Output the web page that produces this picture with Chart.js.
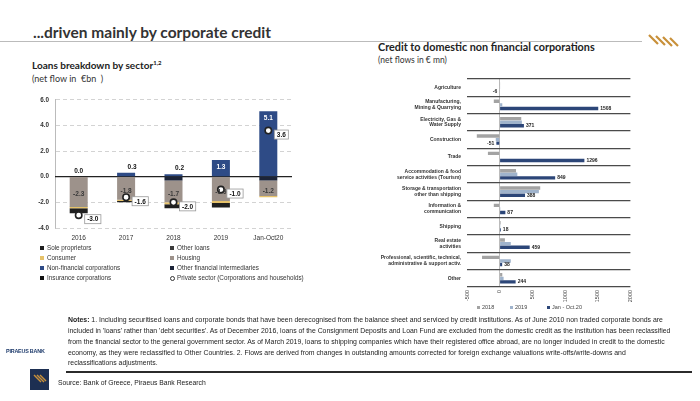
<!DOCTYPE html>
<html lang="en">
<head>
<meta charset="UTF-8" />
<title>...driven mainly by corporate credit</title>
<script src="https://cdn.jsdelivr.net/npm/chart.js"></script>
<style>
  body { margin:0; width:700px; height:401px; background:#fff; position:relative; overflow:hidden;
         font-family: Lato, "Liberation Sans", Arial, sans-serif; color:#222; }
  .abs { position:absolute; white-space:nowrap; }
  #title { left:33px; top:23px; font-size:15.5px; font-weight:bold; color:#333; }
  #titleLine { left:0; top:41px; width:642px; height:1px; background:#bbb; }
  #leftTitle { left:32px; top:59px; font-size:10px; font-weight:bold; color:#222; }
  #leftTitle sup { font-size:6px; }
  #leftSub { left:32px; top:73px; font-size:9px; color:#333; }
  #rightTitle { left:378px; top:40px; font-size:10.8px; font-weight:bold; color:#222; }
  #rightSub { left:378px; top:55px; font-size:8.5px; color:#333; }
  #leftChart { left:18px; top:90px; }
  #rightChart { left:370px; top:70px; }
  .lg { font-family:"Liberation Sans", Arial, sans-serif; font-size:6.3px; color:#333; }
  .sq { display:inline-block; width:4px; height:4px; margin-right:3px; vertical-align:middle; }
  .ring { display:inline-block; width:3px; height:3px; border:1.2px solid #333; border-radius:50%; margin-right:2px; vertical-align:middle; }
  .rl { font-family:"Liberation Sans", Arial, sans-serif; font-size:5.5px; color:#444; top:304px; }
  .note { left:68px; font-family:"Liberation Sans", Arial, sans-serif; font-size:6.9px; color:#222; }
  #piraeus { left:6px; top:348px; font-family:"Liberation Sans", Arial, sans-serif; font-size:5.4px; font-weight:bold; color:#1d3a6b; letter-spacing:-0.2px; }
  #bottomLine { left:66px; top:371px; width:626px; height:2px; background:#2b2b2b; }
  #logo { left:30px; top:369px; }
  #source { left:58px; top:379px; font-family:"Liberation Sans", Arial, sans-serif; font-size:6.8px; color:#222; }
  #gold { left:646px; top:33px; }
</style>
</head>
<body>
  <div id="title" class="abs">...driven mainly by corporate credit</div>
  <div id="titleLine" class="abs"></div>
  <svg id="gold" class="abs" width="34" height="16">
    <g stroke="#c8903a" stroke-width="2.2">
      <line x1="3" y1="2" x2="12" y2="11"/><line x1="10" y1="3" x2="19" y2="12"/><line x1="17" y1="4" x2="26" y2="13"/><line x1="24" y1="5" x2="32" y2="13"/>
    </g>
  </svg>

  <div id="leftTitle" class="abs">Loans breakdown by sector<sup>1,2</sup></div>
  <div id="leftSub" class="abs">(net flow in &nbsp;€bn &nbsp;)</div>
  <div id="rightTitle" class="abs">Credit to domestic non financial corporations</div>
  <div id="rightSub" class="abs">(net flows in € mn)</div>

  <canvas id="leftChart" class="abs" width="282" height="162"></canvas>
  <canvas id="rightChart" class="abs" width="270" height="235"></canvas>

  <!-- legend of the left chart, two columns -->
  <div class="abs lg" style="left:40px;top:244px;"><span class="sq" style="background:#1f1f1f"></span>Sole proprietors</div>
  <div class="abs lg" style="left:40px;top:254px;"><span class="sq" style="background:#e6c26a"></span>Consumer</div>
  <div class="abs lg" style="left:40px;top:264px;"><span class="sq" style="background:#2e4b86"></span>Non-financial corporations</div>
  <div class="abs lg" style="left:40px;top:274px;"><span class="sq" style="background:#111"></span>Insurance corporations</div>
  <div class="abs lg" style="left:170px;top:244px;"><span class="sq" style="background:#3c3c3c"></span>Other loans</div>
  <div class="abs lg" style="left:170px;top:254px;"><span class="sq" style="background:#9d928b"></span>Housing</div>
  <div class="abs lg" style="left:170px;top:264px;"><span class="sq" style="background:#1c2438"></span>Other financial intermediaries</div>
  <div class="abs lg" style="left:170px;top:274px;"><span class="ring"></span>Private sector (Corporations and households)</div>

  <!-- legend of the right chart -->
  <div class="abs rl" style="left:477px;"><span class="sq" style="background:#a3a3a3;width:3px;height:3px;margin-right:2px"></span>2018</div>
  <div class="abs rl" style="left:510px;"><span class="sq" style="background:#9fb3cc;width:3px;height:3px;margin-right:2px"></span>2019</div>
  <div class="abs rl" style="left:547px;"><span class="sq" style="background:#2c4678;width:3px;height:3px;margin-right:2px"></span>Jan - Oct.20</div>

  <div class="abs note" style="top:316px;"><b>Notes:</b> 1. Including securitised loans and corporate bonds that have been derecognised from the balance sheet and serviced by credit institutions. As of June 2010 non traded corporate bonds are</div>
  <div class="abs note" style="top:327px;">included in 'loans' rather than 'debt securities'. As of December 2016, loans of the Consignment Deposits and Loan Fund are excluded from the domestic credit as the institution has been reclassified</div>
  <div class="abs note" style="top:338px;">from the financial sector to the general government sector. As of March 2019, loans to shipping companies which have their registered office abroad, are no longer included in credit to the domestic</div>
  <div class="abs note" style="top:349px;">economy, as they were reclassified to Other Countries. 2. Flows are derived from changes in outstanding amounts corrected for foreign exchange valuations write-offs/write-downs and</div>
  <div class="abs note" style="top:359px;">reclassifications adjustments.</div>
  <div id="piraeus" class="abs">PIRAEUS BANK</div>
  <div id="bottomLine" class="abs"></div>
  <svg id="logo" class="abs" width="19" height="21">
    <rect width="19" height="21" fill="#1d2f52"/>
    <g stroke="#c8903a" stroke-width="1.4">
      <line x1="4" y1="6" x2="11" y2="13"/><line x1="7" y1="6" x2="14" y2="13"/><line x1="10" y1="6" x2="16" y2="12"/>
    </g>
  </svg>
  <div id="source" class="abs">Source: Bank of Greece, Piraeus Bank Research</div>

<script>
  // left chart: loans breakdown by sector (€ bn)
  const years = ['2016', '2017', '2018', '2019', 'Jan-Oct20'];
  const nfc = [0.0, 0.3, 0.2, 1.3, 5.1];
  const otherFinInt = [0, 0, -0.3, 0, -0.3];
  const housing = [-2.3, -1.8, -1.7, -1.9, -1.2];
  const otherLoans = [-0.05, 0, 0, 0, 0];
  const consumer = [-0.1, -0.1, -0.15, -0.15, -0.1];
  const insurance = [0, 0, 0, 0, 0];
  const soleProp = [-0.4, -0.1, -0.3, -0.35, 0];
  const privateSector = [-3.0, -1.6, -2.0, -1.0, 3.6];
  const leftTicks = [-4, -2, 0, 2, 4, 6];

  // right chart: credit to domestic NFCs (€ mn)
  const sectors = [
    'Agriculture',
    ['Manufacturing,', 'Mining & Quarrying'],
    ['Electricity, Gas &', 'Water Supply'],
    'Construction',
    'Trade',
    ['Accommodation & food', 'service activities (Tourism)'],
    ['Storage & transportation', 'other than shipping'],
    ['Information &', 'communication'],
    'Shipping',
    ['Real estate', 'activities'],
    ['Professional, scientific, technical,', 'administrative & support activ.'],
    'Other'
  ];
  const flows2018 = [3, -90, 330, -350, -180, 250, 620, -90, 15, 80, -270, 40];
  const flows2019 = [5, 40, 340, -60, 0, 270, 600, 10, 10, 170, 170, 60];
  const flowsJanOct20 = [-6, 1508, 371, -51, 1296, 849, 388, 87, 18, 459, 38, 244];

  // solid zero line under the bars (the other gridlines are dashed)
  const zeroLine = {
    id: 'zeroLine',
    beforeDatasetsDraw(chart) {
      const { ctx, chartArea, scales } = chart;
      const y = scales.y.getPixelForValue(0);
      ctx.save();
      ctx.strokeStyle = '#222';
      ctx.lineWidth = 1.2;
      ctx.beginPath();
      ctx.moveTo(chartArea.left, y);
      ctx.lineTo(chartArea.right, y);
      ctx.stroke();
      ctx.restore();
    }
  };

  const leftLabels = {
    id: 'leftLabels',
    afterDatasetsDraw(chart) {
      const ctx = chart.ctx;
      ctx.save();
      ctx.font = 'bold 6.5px "Liberation Sans", Arial';
      ctx.textAlign = 'center';
      ctx.textBaseline = 'middle';
      chart.getDatasetMeta(0).data.forEach((bar, i) => {
        const v = nfc[i];
        if (v >= 1) {
          ctx.fillStyle = '#fff';
          ctx.fillText(v.toFixed(1), bar.x, bar.y + 7);
        } else {
          ctx.fillStyle = '#111';
          ctx.fillText(v.toFixed(1), bar.x + (v > 0 ? 6 : 0), bar.y - 6);
        }
      });
      chart.getDatasetMeta(2).data.forEach((bar, i) => {
        ctx.fillStyle = '#3a3a3a';
        ctx.fillText(housing[i].toFixed(1), bar.x, (bar.y + bar.base) / 2 + 3);
      });
      chart.getDatasetMeta(7).data.forEach((pt, i) => {
        const txt = privateSector[i].toFixed(1);
        const w = ctx.measureText(txt).width + 5, h = 9;
        const x = pt.x + 6, y = pt.y + 4 - h / 2;
        ctx.fillStyle = '#fff';
        ctx.fillRect(x, y, w, h);
        ctx.strokeStyle = '#999';
        ctx.lineWidth = 0.8;
        ctx.strokeRect(x, y, w, h);
        ctx.fillStyle = '#111';
        ctx.fillText(txt, x + w / 2, y + h / 2 + 0.5);
      });
      ctx.restore();
    }
  };

  const bar = (label, data, color) => ({ type: 'bar', label, data, backgroundColor: color, stack: 'loans', order: 1 });

  new Chart(document.getElementById('leftChart'), {
    data: {
      labels: years,
      datasets: [
        bar('Non-financial corporations', nfc, '#2e4b86'),
        bar('Other financial intermediaries', otherFinInt, '#1c2438'),
        bar('Housing', housing, '#9d928b'),
        bar('Other loans', otherLoans, '#3c3c3c'),
        bar('Consumer', consumer, '#e6c26a'),
        bar('Insurance corporations', insurance, '#111'),
        bar('Sole proprietors', soleProp, '#1f1f1f'),
        { type: 'line', label: 'Private sector (Corporations and households)', data: privateSector,
          showLine: false, stack: 'ps', order: 0,
          pointRadius: 3.2, pointBackgroundColor: '#fff', pointBorderColor: '#222', pointBorderWidth: 1.6 }
      ]
    },
    options: {
      responsive: false,
      animation: false,
      devicePixelRatio: 1,
      layout: { padding: { top: 7, right: 8, bottom: 8 } },
      plugins: { legend: { display: false }, tooltip: { enabled: false } },
      datasets: { bar: { categoryPercentage: 1, barPercentage: 0.38 } },
      scales: {
        x: {
          stacked: true,
          grid: { display: false, drawTicks: false },
          border: { display: false },
          ticks: { color: '#333', font: { size: 6.5, family: '"Liberation Sans", Arial' }, padding: 6 },
          afterFit: s => { s.height = 16; }
        },
        y: {
          stacked: true,
          min: -4, max: 6,
          afterBuildTicks: s => { s.ticks = leftTicks.map(v => ({ value: v })); },
          grid: {
            color: c => c.tick && c.tick.value === 0 ? 'rgba(0,0,0,0)' : '#c8c8c8',
            lineWidth: 0.8,
            drawTicks: false
          },
          border: { display: true, color: '#bbb', width: 1, dash: [4, 3] },
          ticks: { color: '#333', font: { size: 6.3, weight: 'bold', family: '"Liberation Sans", Arial' },
                   padding: 6, callback: v => v.toFixed(1) },
          afterFit: s => { s.width = 37; }
        }
      }
    },
    plugins: [zeroLine, leftLabels]
  });

  const rightLabels = {
    id: 'rightLabels',
    afterDatasetsDraw(chart) {
      const ctx = chart.ctx;
      ctx.save();
      ctx.font = 'bold 5px "Liberation Sans", Arial';
      ctx.fillStyle = '#222';
      ctx.textBaseline = 'middle';
      chart.getDatasetMeta(2).data.forEach((b, i) => {
        const v = flowsJanOct20[i];
        ctx.textAlign = v >= 0 ? 'left' : 'right';
        ctx.fillText(String(v), v >= 0 ? b.x + 2 : b.x - 2, b.y);
      });
      ctx.restore();
    }
  };

  new Chart(document.getElementById('rightChart'), {
    type: 'bar',
    data: {
      labels: sectors,
      datasets: [
        { label: '2018', data: flows2018, backgroundColor: '#a3a3a3' },
        { label: '2019', data: flows2019, backgroundColor: '#9fb3cc' },
        { label: 'Jan - Oct.20', data: flowsJanOct20, backgroundColor: '#2c4678' }
      ]
    },
    options: {
      indexAxis: 'y',
      responsive: false,
      animation: false,
      devicePixelRatio: 1,
      layout: { padding: { top: 5, right: 4 } },
      plugins: { legend: { display: false }, tooltip: { enabled: false } },
      datasets: { bar: { categoryPercentage: 0.62, barPercentage: 0.95 } },
      scales: {
        x: {
          min: -500, max: 2000,
          ticks: { stepSize: 500, minRotation: 90, maxRotation: 90, color: '#444',
                   font: { size: 5.5, family: '"Liberation Sans", Arial' }, padding: 3,
                   callback: v => String(v) },
          grid: { color: c => c.tick && c.tick.value === 0 ? '#aaa' : 'rgba(0,0,0,0)', lineWidth: 0.8, drawTicks: false },
          border: { display: false },
          afterFit: s => { s.height = 18; }
        },
        y: {
          grid: { color: '#4a4a4a', lineWidth: 1.2, drawTicks: false, offset: true },
          border: { display: false },
          ticks: { color: '#333', font: { size: 5, weight: 'bold', family: '"Liberation Sans", Arial', lineHeight: 1.15 },
                   padding: 6 },
          afterFit: s => { s.width = 97; }
        }
      }
    },
    plugins: [rightLabels]
  });
</script>
</body>
</html>
